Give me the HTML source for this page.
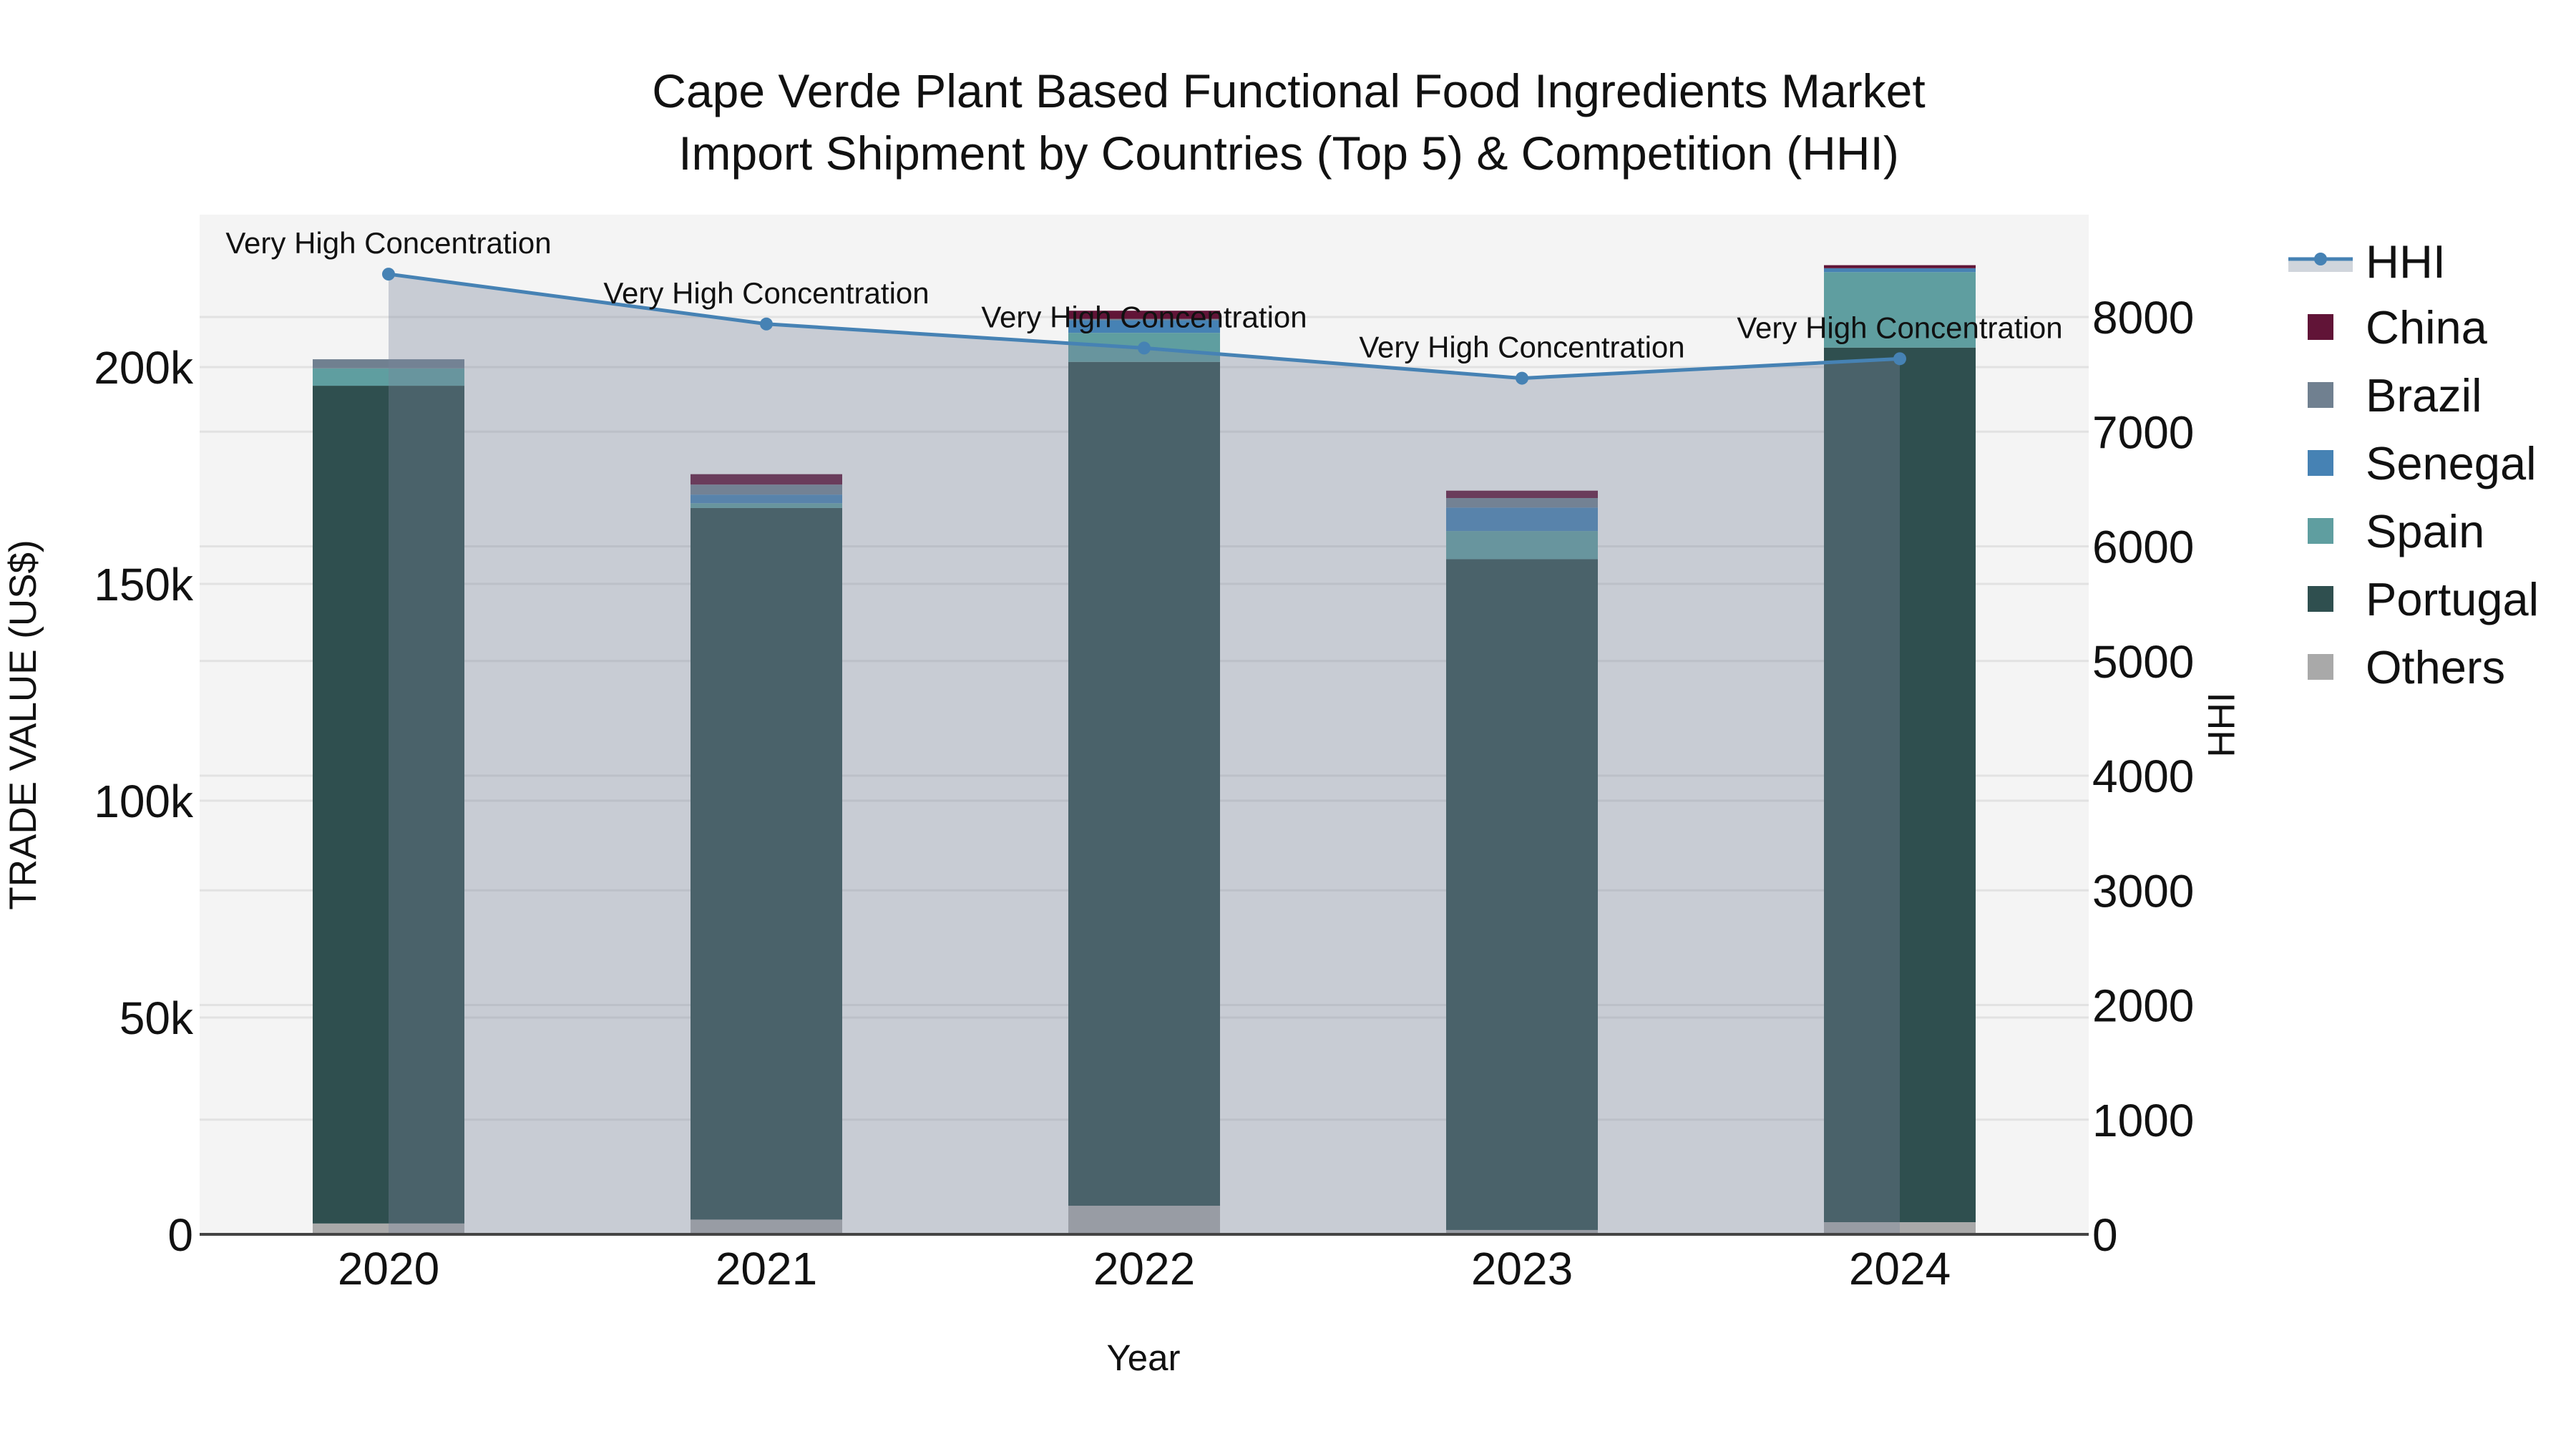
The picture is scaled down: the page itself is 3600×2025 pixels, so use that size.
<!DOCTYPE html>
<html><head><meta charset="utf-8"><style>
html,body{margin:0;padding:0;background:#fff;}
svg{display:block;font-family:"Liberation Sans",Arial,sans-serif;}
</style></head><body>
<svg id="chart" width="3600" height="2025" viewBox="0 0 3600 2025" xmlns="http://www.w3.org/2000/svg">
<rect x="0" y="0" width="3600" height="2025" fill="#fff"/>
<rect x="279" y="300" width="2640" height="1425" fill="#f4f4f4"/>
<g id="grid"></g>
<g id="bars"></g>
<g id="hhi"></g>
<line x1="279" y1="1725" x2="2919" y2="1725" stroke="#444" stroke-width="4"/>
<g id="axes"></g>
<text x="1801" y="150" text-anchor="middle" font-size="66" fill="#111">Cape Verde Plant Based Functional Food Ingredients Market</text>
<text x="1801" y="237" text-anchor="middle" font-size="66" fill="#111">Import Shipment by Countries (Top 5) &amp; Competition (HHI)</text>
<text x="1598" y="1915" text-anchor="middle" font-size="51" fill="#111">Year</text>
<text transform="translate(50,1013) rotate(-90)" text-anchor="middle" font-size="53" fill="#111">TRADE VALUE (US$)</text>
<text transform="translate(3105,1013) rotate(-90)" text-anchor="middle" dominant-baseline="central" font-size="53" fill="#111">HHI</text>
<g id="legend"></g>
</svg>
<script>
const years = ["2020","2021","2022","2023","2024"];
const others   = [2.5, 3.4, 6.6, 1.0, 2.8];
const portugal = [193.2, 164.1, 194.6, 154.7, 201.7];
const spain    = [4.0, 1.1, 6.7, 6.5, 17.4];
const senegal  = [0.0, 2.0, 2.9, 5.4, 0.9];
const brazil   = [2.1, 2.3, 0.3, 2.2, 0.0];
const china    = [0.0, 2.4, 1.9, 1.7, 0.7];
const hhi = [8374, 7939, 7729, 7466, 7636];
const hhiLabels = ["Very High Concentration","Very High Concentration","Very High Concentration","Very High Concentration","Very High Concentration"];
const yTicks = [0, 50, 100, 150, 200];
const yTickLabels = ["0","50k","100k","150k","200k"];
const y2Ticks = [0,1000,2000,3000,4000,5000,6000,7000,8000];

const NS="http://www.w3.org/2000/svg";
function mk(tag, attrs, parent){const e=document.createElementNS(NS,tag);for(const k in attrs)e.setAttribute(k,attrs[k]);parent.appendChild(e);return e;}
const X0=279, X1=2919, Y0=1725;
function xPos(i){return 543 + i*528;}
function yL(v){return Y0 - v*6.06;}
function yR(v){return Y0 - v*0.16025;}
const BW=212;

const grid=document.getElementById('grid');
yTicks.forEach(v=>{ if(v===0) return; const l=mk('line',{x1:X0,x2:X1,y1:yL(v),y2:yL(v),stroke:'#e2e2e2','stroke-width':3},grid);

});
y2Ticks.forEach(v=>{ if(v===0) return; const l=mk('line',{x1:X0,x2:X1,y1:yR(v),y2:yR(v),stroke:'#e2e2e2','stroke-width':3},grid);

});

const series=[["Others",others,"#a9a9a9"],["Portugal",portugal,"#2f4f4f"],["Spain",spain,"#5f9ea0"],["Senegal",senegal,"#4682b4"],["Brazil",brazil,"#708090"],["China",china,"#611437"]];
const bars=document.getElementById('bars');
years.forEach((yr,i)=>{let base=0;series.forEach(([nm,arr,col])=>{const v=arr[i];if(v>0){const r=mk('rect',{x:xPos(i)-BW/2,y:yL(base+v),width:BW,height:yL(base)-yL(base+v),fill:col},bars);

}base+=v;});});

const hg=document.getElementById('hhi');
let pts=years.map((y,i)=>xPos(i)+','+yR(hhi[i])).join(' ');
const area=mk('polygon',{points:xPos(0)+','+Y0+' '+pts+' '+xPos(years.length-1)+','+Y0,fill:'rgba(122,133,155,0.36)'},hg);


const line=mk('polyline',{points:pts,fill:'none',stroke:'#4682b4','stroke-width':5},hg);


years.forEach((y,i)=>{const c=mk('circle',{cx:xPos(i),cy:yR(hhi[i]),r:9,fill:'#4682b4'},hg);


const t=mk('text',{x:xPos(i),y:yR(hhi[i])-29,'text-anchor':'middle','font-size':42,fill:'#111'},hg);t.textContent=hhiLabels[i];

});

const ax=document.getElementById('axes');
yTicks.forEach((v,i)=>{const t=mk('text',{x:270,y:yL(v)+23,'text-anchor':'end','font-size':64,fill:'#111'},ax);t.textContent=yTickLabels[i];

});
y2Ticks.forEach(v=>{const t=mk('text',{x:2924,y:yR(v)+23,'text-anchor':'start','font-size':64,fill:'#111'},ax);t.textContent=String(v);

});
years.forEach((y,i)=>{const t=mk('text',{x:xPos(i),y:1795,'text-anchor':'middle','font-size':64,fill:'#111'},ax);t.textContent=y;

});

const lg=document.getElementById('legend');
const lh=mk('g',{},lg);


mk('rect',{x:3198,y:362,width:90,height:18,fill:'#d0d5dc'},lh);
mk('line',{x1:3198,x2:3288,y1:362,y2:362,stroke:'#4682b4','stroke-width':5},lh);
mk('circle',{cx:3243,cy:362,r:9,fill:'#4682b4'},lh);
const th=mk('text',{x:3306,y:388,'font-size':65,fill:'#111'},lh);th.textContent='HHI';
const legItems=[["China","#611437"],["Brazil","#708090"],["Senegal","#4682b4"],["Spain","#5f9ea0"],["Portugal","#2f4f4f"],["Others","#a9a9a9"]];
legItems.forEach(([nm,col],i)=>{const cy=457+i*95;const g=mk('g',{},lg);


mk('rect',{x:3225,y:cy-18,width:36,height:36,fill:col},g);
const t=mk('text',{x:3306,y:cy+23,'font-size':65,fill:'#111'},g);t.textContent=nm;});
</script>
</body></html>
